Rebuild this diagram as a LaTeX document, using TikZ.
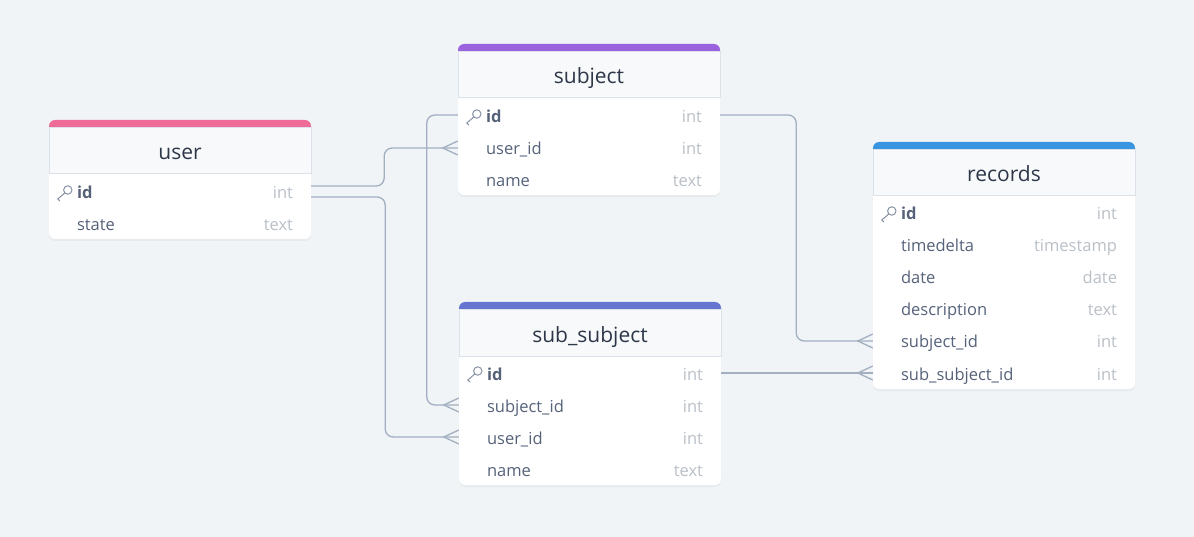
\documentclass[tikz,border=0pt]{standalone}
\usepackage{fontspec}
\setmainfont{Open Sans}
\usetikzlibrary{positioning,shadows}

\definecolor{bgcol}{HTML}{F0F4F7}
\definecolor{linecol}{HTML}{A3AFC0}
\definecolor{headbg}{HTML}{F7F9FB}
\definecolor{headline}{HTML}{DCE2EA}
\definecolor{titlecol}{HTML}{2D3748}
\definecolor{fieldcol}{HTML}{56627A}
\definecolor{typecol}{HTML}{BAC0C8}
\definecolor{keycol}{HTML}{8792A4}
\definecolor{usercol}{HTML}{F06C98}
\definecolor{subjcol}{HTML}{9A62DF}
\definecolor{subsubcol}{HTML}{6675D0}
\definecolor{reccol}{HTML}{3A95E0}

\newcommand\crowfoot[1]{\draw[rel, rounded corners=0pt] ([yshift=7pt]#1) -- ++(-15,7) -- ([yshift=-7pt]#1);}
\newcommand\pkey[1]{%
\draw[keycol, line width=1pt] ([xshift=19pt, yshift=2pt]#1.west) circle (4.2pt);
\draw[keycol, line width=1pt, line cap=round] ([xshift=16pt, yshift=-1pt]#1.west) -- ++(-7,6) -- ++(2,2);}

\begin{document}
\begin{tikzpicture}[x=1pt, y=-1pt,
  field/.style={anchor=west, inner sep=0pt, text height=14pt, text depth=0pt, text=fieldcol, font=\fontsize{16.5}{19}\selectfont},
  ftype/.style={anchor=east, inner sep=0pt, text height=14pt, text depth=0pt, text=typecol, font=\fontsize{16.5}{19}\selectfont},
  title/.style={inner sep=0pt, text height=16pt, text depth=0pt, text=titlecol, font=\fontsize{21}{25}\selectfont},
  rowbox/.style={minimum width=262pt, minimum height=32pt, inner sep=0pt},
  card/.style={fill=white, rounded corners=6pt, drop shadow={shadow xshift=0pt, shadow yshift=-2pt, opacity=0.07}},
  head/.style={fill=headbg, draw=headline, line width=1pt},
  rel/.style={draw=linecol, line width=1.3pt, rounded corners=8pt}]
\fill[bgcol] (0,0) rectangle (1194,537);

% user
\fill[card] (49,120) rectangle ++(262,119);
\fill[usercol, rounded corners=6pt] (49,120) rectangle ++(262,14);
\filldraw[head] (49,128) rectangle ++(262,46);
\node[title] (user) at (180,152) {user};
\node[rowbox] (user-id) at (180,192) {};
\node[rowbox] (user-state) at (180,224) {};
\node[field, right=28pt of user-id.west] {\textbf{id}};
\node[ftype, left=18pt of user-id.east] {int};
\node[field, right=28pt of user-state.west] {state};
\node[ftype, left=18pt of user-state.east] {text};
\pkey{user-id}

% subject
\fill[card] (458,44) rectangle ++(262,151);
\fill[subjcol, rounded corners=6pt] (458,44) rectangle ++(262,14);
\filldraw[head] (458,52) rectangle ++(262,46);
\node[title] (subject) at (589,76) {subject};
\node[rowbox] (subject-id) at (589,116) {};
\node[rowbox] (subject-userid) at (589,148) {};
\node[rowbox] (subject-name) at (589,180) {};
\node[field, right=28pt of subject-id.west] {\textbf{id}};
\node[ftype, left=18pt of subject-id.east] {int};
\node[field, right=28pt of subject-userid.west] {user\_id};
\node[ftype, left=18pt of subject-userid.east] {int};
\node[field, right=28pt of subject-name.west] {name};
\node[ftype, left=18pt of subject-name.east] {text};
\pkey{subject-id}

% sub_subject
\fill[card] (459,302) rectangle ++(262,183);
\fill[subsubcol, rounded corners=6pt] (459,302) rectangle ++(262,14);
\filldraw[head] (459,310) rectangle ++(262,46);
\node[title] (subsub) at (590,334) {sub\_subject};
\node[rowbox] (subsub-id) at (590,373) {};
\node[rowbox] (subsub-subjectid) at (590,405) {};
\node[rowbox] (subsub-userid) at (590,437) {};
\node[rowbox] (subsub-name) at (590,469) {};
\node[field, right=28pt of subsub-id.west] {\textbf{id}};
\node[ftype, left=18pt of subsub-id.east] {int};
\node[field, right=28pt of subsub-subjectid.west] {subject\_id};
\node[ftype, left=18pt of subsub-subjectid.east] {int};
\node[field, right=28pt of subsub-userid.west] {user\_id};
\node[ftype, left=18pt of subsub-userid.east] {int};
\node[field, right=28pt of subsub-name.west] {name};
\node[ftype, left=18pt of subsub-name.east] {text};
\pkey{subsub-id}

% records
\fill[card] (873,142) rectangle ++(262,247);
\fill[reccol, rounded corners=6pt] (873,142) rectangle ++(262,14);
\filldraw[head] (873,150) rectangle ++(262,46);
\node[title] (records) at (1004,174) {records};
\node[rowbox] (records-id) at (1004,213) {};
\node[rowbox] (records-timedelta) at (1004,245) {};
\node[rowbox] (records-date) at (1004,277) {};
\node[rowbox] (records-desc) at (1004,309) {};
\node[rowbox] (records-subjectid) at (1004,341) {};
\node[rowbox] (records-subsubid) at (1004,373) {};
\node[field, right=28pt of records-id.west] {\textbf{id}};
\node[ftype, left=18pt of records-id.east] {int};
\node[field, right=28pt of records-timedelta.west] {timedelta};
\node[ftype, left=18pt of records-timedelta.east] {timestamp};
\node[field, right=28pt of records-date.west] {date};
\node[ftype, left=18pt of records-date.east] {date};
\node[field, right=28pt of records-desc.west] {description};
\node[ftype, left=18pt of records-desc.east] {text};
\node[field, right=28pt of records-subjectid.west] {subject\_id};
\node[ftype, left=18pt of records-subjectid.east] {int};
\node[field, right=28pt of records-subsubid.west] {sub\_subject\_id};
\node[ftype, left=18pt of records-subsubid.east] {int};
\pkey{records-id}

% relations
\draw[rel] ([yshift=6pt]user-id.east) -- ++(73,0) |- (subject-userid.west);
\draw[rel] ([yshift=-5pt]user-id.east) -- ++(74,0) |- (subsub-userid.west);
\draw[rel] ([yshift=1pt]subject-id.west) -- ++(-31,0) |- (subsub-subjectid.west);
\draw[rel] ([yshift=1pt]subject-id.east) -- ++(76,0) |- (records-subjectid.west);
\draw[rel] (subsub-id.east) -- (records-subsubid.west);
\crowfoot{subject-userid.west}
\crowfoot{subsub-subjectid.west}
\crowfoot{subsub-userid.west}
\crowfoot{records-subjectid.west}
\crowfoot{records-subsubid.west}
\end{tikzpicture}
\end{document}
